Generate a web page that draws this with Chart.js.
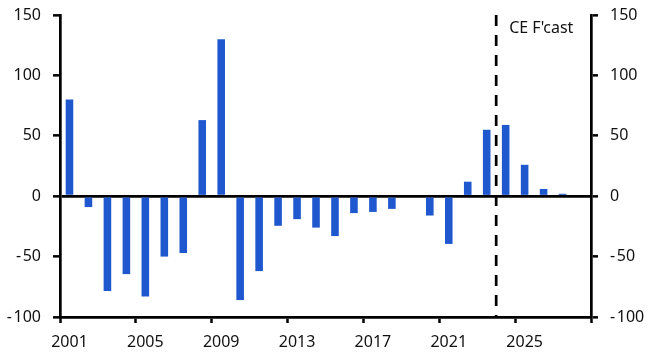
<!DOCTYPE html>
<html>
<head>
<meta charset="utf-8">
<script src="https://cdn.jsdelivr.net/npm/chart.js@4"></script>
<style>
  html, body { margin: 0; padding: 0; background: #fff; }
  #wrap { width: 650px; height: 364px; }
</style>
</head>
<body>
<div id="wrap"><canvas id="chart"></canvas></div>
<script>
const years = [];
for (let y = 2001; y <= 2028; y++) years.push(String(y));

const values = [80, -9, -78.5, -64.5, -83, -50, -47, 63, 130, -86,
    -62, -24.5, -19, -26, -33, -14, -13, -10.5, 0, -16,
    -39.5, 12, 55, 59, 26, 6, 2, null];

const yTicks = [-100, -50, 0, 50, 100, 150];
const forecastLabel = "CE F'cast";
const forecastStart = 22.5; // between 2023 and 2024

const fontSpec = { family: 'Noto Sans', size: 16 };

// ligne pointillée + libellé prévision
const forecastLine = {
    id: 'forecastLine',
    afterDatasetsDraw(chart) {
        const { ctx, chartArea, scales } = chart;
        const x = scales.x.getPixelForValue(forecastStart);
        ctx.save();
        ctx.strokeStyle = '#000';
        ctx.lineWidth = 2.7;
        ctx.setLineDash([11, 9]);
        ctx.beginPath();
        ctx.moveTo(x, chartArea.top);
        ctx.lineTo(x, chartArea.bottom);
        ctx.stroke();
        ctx.setLineDash([]);
        ctx.fillStyle = '#111';
        ctx.font = '16px "Noto Sans"';
        ctx.textBaseline = 'middle';
        ctx.fillText(forecastLabel, x + 13, chartArea.top + 13);
        ctx.restore();
    }
};

const yAxis = (position) => ({
    type: 'linear',
    position: position,
    min: -100,
    max: 150,
    afterBuildTicks: (scale) => { scale.ticks = yTicks.map(v => ({ value: v })); },
    afterFit: (scale) => {
        scale.width = position === 'left' ? 60 : 59;
        scale.paddingTop = 0;
        scale.paddingBottom = 0;
    },
    border: { display: true, color: '#000', width: 2.7 },
    grid: {
        drawOnChartArea: position === 'left',
        color: (c) => (c.tick && c.tick.value === 0) ? '#000' : 'rgba(0,0,0,0)',
        lineWidth: 2.7,
        tickColor: '#000',
        tickLength: 7,
        tickWidth: 2.5
    },
    ticks: {
        color: '#111',
        font: fontSpec,
        padding: 12,
        callback: (v) => v < 0 ? '-\u200A' + Math.abs(v) : v
    }
});

new Chart(document.getElementById('chart'), {
    type: 'bar',
    data: {
        labels: years,
        datasets: [{
            data: values,
            backgroundColor: '#1F58CE',
            barPercentage: 0.4,
            categoryPercentage: 1
        }]
    },
    options: {
        responsive: true,
        maintainAspectRatio: false,
        animation: false,
        layout: { padding: { top: 15, bottom: 0, left: 0, right: 0 } },
        plugins: {
            legend: { display: false },
            tooltip: { enabled: false }
        },
        scales: {
            x: {
                offset: true,
                afterFit: (scale) => { scale.height = 47; },
                border: { display: true, color: '#000', width: 2.7 },
                grid: {
                    offset: true,
                    drawOnChartArea: false,
                    tickColor: (c) => (c.index === undefined || c.index % 4 === 0) ? '#000' : 'rgba(0,0,0,0)',
                    tickLength: 6,
                    tickWidth: 2.5
                },
                ticks: {
                    autoSkip: false,
                    maxRotation: 0,
                    color: '#111',
                    font: fontSpec,
                    padding: 10,
                    callback: function (value, index) {
                        return index % 4 === 0 ? this.getLabelForValue(value) : '';
                    }
                }
            },
            y: yAxis('left'),
            y2: yAxis('right')
        }
    },
    plugins: [forecastLine]
});
</script>
</body>
</html>
